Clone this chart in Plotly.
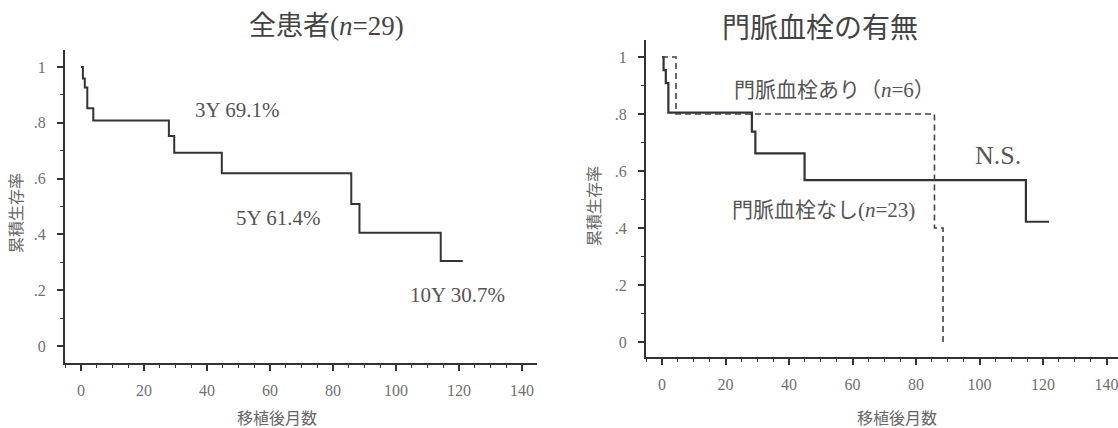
import plotly.graph_objects as go

# ---- data ----
all_t = [0, 0.6, 1.2, 2.0, 3.9, 27.9, 29.6, 44.7, 85.8, 88.4, 114.2, 121.2]
all_s = [1.0, 0.959, 0.927, 0.852, 0.808, 0.753, 0.693, 0.619, 0.509, 0.406, 0.305, 0.305]

nashi_t = [0, 0.5, 1.2, 2.0, 28.3, 29.4, 44.9, 114.6, 121.9]
nashi_s = [1.0, 0.954, 0.908, 0.805, 0.738, 0.662, 0.568, 0.422, 0.422]

ari_t = [0, 4.4, 85.8, 88.5]
ari_s = [1.0, 0.80, 0.40, 0.0]

y_tickvals = [0, 0.2, 0.4, 0.6, 0.8, 1.0]
y_ticktext = ["0", ".2", ".4", ".6", ".8", "1"]
x_tickvals = [0, 20, 40, 60, 80, 100, 120, 140]

left_title = "全患者(<i>n</i>=29)"
right_title = "門脈血栓の有無"
x_title = "移植後月数"
y_title = "累積生存率"

left_notes = [("3Y 69.1%", 49.5, 0.846), ("5Y 61.4%", 62.5, 0.459), ("10Y 30.7%", 119.4, 0.183)]
right_notes = [("門脈血栓あり（<i>n</i>=6）", 54.2, 0.884, 21),
               ("門脈血栓なし(<i>n</i>=23)", 50.7, 0.463, 21),
               ("N.S.", 105.8, 0.656, 26)]

FONT = "Liberation Serif, Noto Sans CJK JP, serif"
W, H = 1118, 428
LINE = "#333333"

fig = go.Figure()
fig.add_trace(go.Scatter(x=all_t, y=all_s, mode="lines", line=dict(shape="hv", color=LINE, width=2),
                         xaxis="x", yaxis="y", showlegend=False))
fig.add_trace(go.Scatter(x=nashi_t, y=nashi_s, mode="lines", line=dict(shape="hv", color=LINE, width=2.2),
                         xaxis="x2", yaxis="y2", showlegend=False))
fig.add_trace(go.Scatter(x=ari_t, y=ari_s, mode="lines",
                         line=dict(shape="hv", color="#444444", width=1.6, dash="6px,4px"),
                         xaxis="x2", yaxis="y2", showlegend=False))

def px_x(p):
    return p / W

def px_y(p):
    return 1 - p / H

axis_common = dict(showline=True, linecolor=LINE, linewidth=2, showgrid=False, zeroline=False,
                   ticks="outside", ticklen=6, tickwidth=1.5, tickcolor=LINE,
                   tickfont=dict(family=FONT, size=16, color="#707070"))

xcommon = dict(axis_common, tickvals=x_tickvals, ticklabelstandoff=6, ticklabeloverflow="allow",
               minor=dict(dtick=5, ticks="outside", ticklen=3, tickwidth=1.2, tickcolor=LINE))
ycommon = dict(axis_common, tickvals=y_tickvals, ticktext=y_ticktext, ticklabelstandoff=8,
               minor=dict(dtick=0.1, ticks="outside", ticklen=3, tickwidth=1.2, tickcolor=LINE))

fig.update_layout(
    width=W, height=H, margin=dict(l=0, r=0, t=0, b=0),
    paper_bgcolor="white", plot_bgcolor="white",
    xaxis=dict(xcommon, domain=[px_x(65), px_x(537)], range=[-5.08, 144.76], anchor="y"),
    yaxis=dict(ycommon, domain=[px_y(363), px_y(50)], range=[-0.061, 1.061], anchor="x"),
    xaxis2=dict(xcommon, domain=[px_x(646), 1.0], range=[-5.04, 143.6], anchor="y2"),
    yaxis2=dict(ycommon, domain=[px_y(357), px_y(40)], range=[-0.0526, 1.0596], anchor="x2"),
)

C = dict(xanchor="center", yanchor="middle", showarrow=False)
ann = []
# titles
ann.append(dict(C, text=left_title, x=px_x(326), y=px_y(26), xref="paper", yref="paper",
                font=dict(family=FONT, size=27, color="#444444")))
ann.append(dict(C, text=right_title, x=px_x(820), y=px_y(28), xref="paper", yref="paper",
                font=dict(family=FONT, size=28, color="#444444")))
# axis titles
for cx in (277, 897):
    ann.append(dict(C, text=x_title, x=px_x(cx), y=px_y(418), xref="paper", yref="paper",
                    font=dict(family=FONT, size=16, color="#666666")))
for cx, cy in ((16, 213), (594, 206)):
    ann.append(dict(C, text=y_title, x=px_x(cx), y=px_y(cy), xref="paper", yref="paper",
                    textangle=-90, font=dict(family=FONT, size=16, color="#666666")))
# notes
for t, x, y in left_notes:
    ann.append(dict(C, text=t, x=x, y=y, xref="x", yref="y",
                    font=dict(family=FONT, size=21, color="#555555")))
for t, x, y, s in right_notes:
    ann.append(dict(C, text=t, x=x, y=y, xref="x2", yref="y2",
                    font=dict(family=FONT, size=s, color="#555555")))

fig.update_layout(annotations=ann)
fig.write_html("out.html", config={"displayModeBar": False},
               post_script="document.body.style.margin='0';document.body.style.overflow='hidden';")
